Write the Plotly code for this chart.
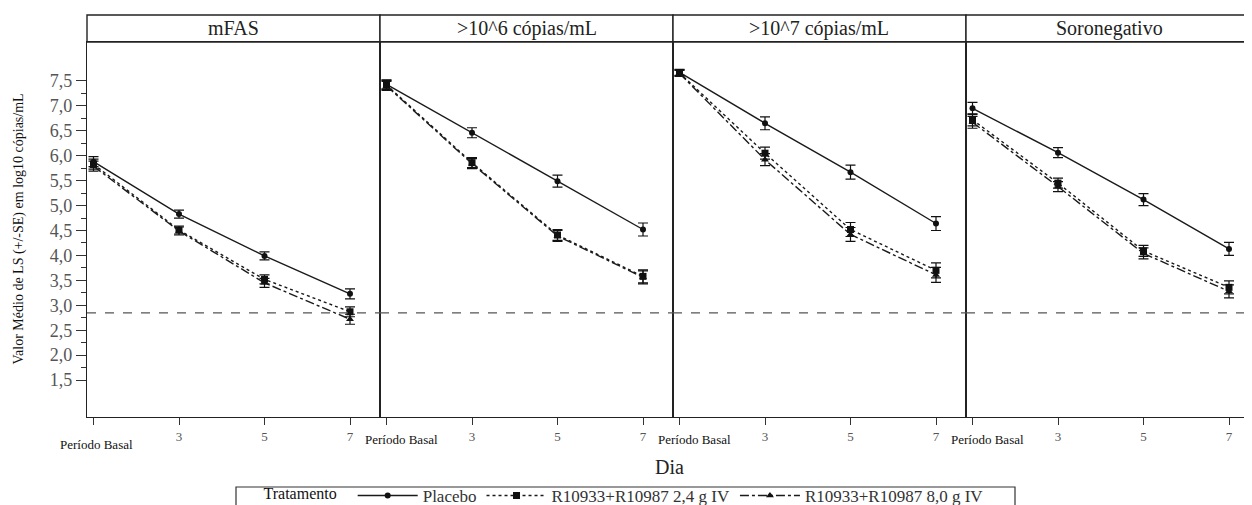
import plotly.graph_objects as go
from plotly.subplots import make_subplots

# ---------------- data ----------------
panel_titles = ["mFAS", ">10^6 cópias/mL", ">10^7 cópias/mL", "Soronegativo"]
day_labels = ["Período Basal", "3", "5", "7"]
day_pos = [0, 1, 2, 3]

group_names = ["Placebo", "R10933+R10987 2,4 g IV", "R10933+R10987 8,0 g IV"]

placebo_mean = [[5.88, 4.83, 3.99, 3.23],
                [7.43, 6.46, 5.49, 4.52],
                [7.67, 6.65, 5.67, 4.64],
                [6.95, 6.06, 5.12, 4.13]]
dose24_mean = [[5.83, 4.51, 3.52, 2.87],
               [7.42, 5.86, 4.41, 3.58],
               [7.66, 6.05, 4.52, 3.70],
               [6.72, 5.45, 4.09, 3.36]]
dose80_mean = [[5.79, 4.49, 3.45, 2.72],
               [7.40, 5.84, 4.39, 3.56],
               [7.65, 5.92, 4.42, 3.61],
               [6.67, 5.38, 4.04, 3.28]]

placebo_se = [[0.10, 0.08, 0.08, 0.10],
              [0.09, 0.10, 0.12, 0.13],
              [0.06, 0.13, 0.14, 0.14],
              [0.12, 0.10, 0.12, 0.13]]
dose24_se = [[0.10, 0.08, 0.09, 0.10],
             [0.09, 0.10, 0.11, 0.13],
             [0.06, 0.12, 0.14, 0.15],
             [0.12, 0.10, 0.11, 0.13]]
dose80_se = [[0.10, 0.08, 0.09, 0.10],
             [0.09, 0.10, 0.11, 0.13],
             [0.06, 0.12, 0.14, 0.15],
             [0.12, 0.10, 0.11, 0.13]]

lloq = 2.85

y_tickvals = [1.5, 2.0, 2.5, 3.0, 3.5, 4.0, 4.5, 5.0, 5.5, 6.0, 6.5, 7.0, 7.5]
y_ticktext = ["1,5", "2,0", "2,5", "3,0", "3,5", "4,0", "4,5", "5,0", "5,5", "6,0", "6,5", "7,0", "7,5"]
y_minor = [1.75, 2.25, 2.75, 3.25, 3.75, 4.25, 4.75, 5.25, 5.75, 6.25, 6.75, 7.25]

# ---------------- styling ----------------
FONT = "Liberation Serif"
OFF = 8  # page body margin
W, H = 1252 - OFF, 505 - OFF
ML, MR, MT, MB = 87 - OFF, 0, 42 - OFF, 88
plot_w = W - ML - MR
plot_h = H - MT - MB
panel_px = [(0, 293), (293, 586), (586, 879), (879, plot_w)]
domains = [(a / plot_w, b / plot_w) for a, b in panel_px]
strip_h = 27 / plot_h

styles = [
    dict(symbol="circle", dash="solid"),
    dict(symbol="square", dash="dot"),
    dict(symbol="triangle-up", dash="dashdot"),
]
means = [placebo_mean, dose24_mean, dose80_mean]
ses = [placebo_se, dose24_se, dose80_se]

fig = make_subplots(rows=1, cols=4, shared_yaxes=True, horizontal_spacing=0)

for p in range(4):
    for g in range(3):
        fig.add_trace(
            go.Scatter(
                x=day_pos, y=means[g][p],
                mode="lines+markers",
                name=group_names[g],
                legendgroup=group_names[g],
                showlegend=(p == 0),
                line=dict(color="#1a1a1a", width=1.4, dash=styles[g]["dash"]),
                marker=dict(symbol=styles[g]["symbol"], size=7 if g else 6, color="#111111"),
                error_y=dict(type="data", array=ses[g][p], visible=True,
                             color="#111111", thickness=1.2, width=5),
            ),
            row=1, col=p + 1,
        )

shapes = []
annotations = []
for p in range(4):
    ax = "xaxis" if p == 0 else f"xaxis{p+1}"
    fig.layout[ax].update(
        domain=list(domains[p]),
        range=[-6.5 / 85.5, (panel_px[p][1] - panel_px[p][0] - 6.5) / 85.5],
        tickvals=day_pos,
        ticktext=[""] + day_labels[1:],
        ticks="outside", ticklen=7, tickcolor="#333",
        showline=True, mirror=True, linecolor="#222", linewidth=1.2,
        showgrid=False, zeroline=False, automargin=False,
        tickfont=dict(family=FONT, size=13, color="#555"),
    )
    shapes.append(dict(type="rect", xref="paper", yref="paper",
                       x0=domains[p][0], x1=domains[p][1], y0=1, y1=1 + strip_h,
                       line=dict(color="#222", width=1.4), fillcolor="white", layer="below"))
    annotations.append(dict(xref="paper", yref="paper",
                            x=(domains[p][0] + domains[p][1]) / 2, y=1 + strip_h / 2,
                            text=panel_titles[p], showarrow=False,
                            font=dict(family=FONT, size=20, color="#222"),
                            xanchor="center", yanchor="middle"))
    xref = "x" if p == 0 else f"x{p+1}"
    annotations.append(dict(xref=xref, yref="paper", x=day_pos[0], y=0,
                            yshift=(-27 if p == 0 else -22), xshift=(3 if p == 0 else 15),
                            text=day_labels[0], showarrow=False,
                            font=dict(family=FONT, size=13, color="#111"),
                            xanchor="center", yanchor="middle"))
    shapes.append(dict(type="line", xref=f"{xref} domain", yref="y",
                       x0=0, x1=1, y0=lloq, y1=lloq,
                       line=dict(color="#555", width=1.2, dash="dash")))

# legend frame (decoration)
shapes.append(dict(type="rect", xref="paper", yref="paper",
                   x0=(236 - 87) / plot_w, x1=(1015 - 87) / plot_w,
                   y0=-(70 / plot_h), y1=-(100 / plot_h),
                   line=dict(color="#333", width=1.2), fillcolor="rgba(0,0,0,0)"))

for p in range(4):
    ay = "yaxis" if p == 0 else f"yaxis{p+1}"
    fig.layout[ay].update(
        range=[0.76, 8.28],
        showline=True, mirror=True, linecolor="#222", linewidth=1.2,
        showgrid=False, zeroline=False, automargin=False,
    )
fig.layout.yaxis.update(
    tickvals=y_tickvals, ticktext=y_ticktext,
    ticks="outside", ticklen=10, tickcolor="#333",
    tickfont=dict(family=FONT, size=18, color="#555"),
    minor=dict(tickvals=y_minor, ticks="outside", ticklen=5, tickcolor="#333"),
)
for p in range(1, 4):
    fig.layout[f"yaxis{p+1}"].update(showticklabels=False, ticks="")

annotations.append(dict(xref="paper", yref="paper", x=0.5, y=0, yshift=-50,
                        text="Dia", showarrow=False,
                        font=dict(family=FONT, size=20, color="#222"),
                        xanchor="center", yanchor="middle"))
annotations.append(dict(xref="paper", yref="paper", x=0, y=0.5, xshift=-ML + 10,
                        text="Valor Médio de LS (+/-SE) em log10 cópias/mL", textangle=-90,
                        showarrow=False,
                        font=dict(family=FONT, size=14, color="#111"),
                        xanchor="center", yanchor="middle"))

fig.update_layout(
    width=W, height=H,
    margin=dict(l=ML, r=MR, t=MT, b=MB, autoexpand=False),
    plot_bgcolor="white", paper_bgcolor="white",
    shapes=shapes, annotations=annotations,
    legend=dict(
        orientation="h", x=(625 - 87) / plot_w, xanchor="center", y=-(61 / plot_h), yanchor="top",
        title=dict(text="Tratamento  ", side="left", font=dict(family=FONT, size=16, color="#111")),
        font=dict(family=FONT, size=17, color="#333"),
        borderwidth=0, bgcolor="rgba(0,0,0,0)",
        itemwidth=60, tracegroupgap=0,
    ),
    font=dict(family=FONT),
)

fig.write_html("out.html")
